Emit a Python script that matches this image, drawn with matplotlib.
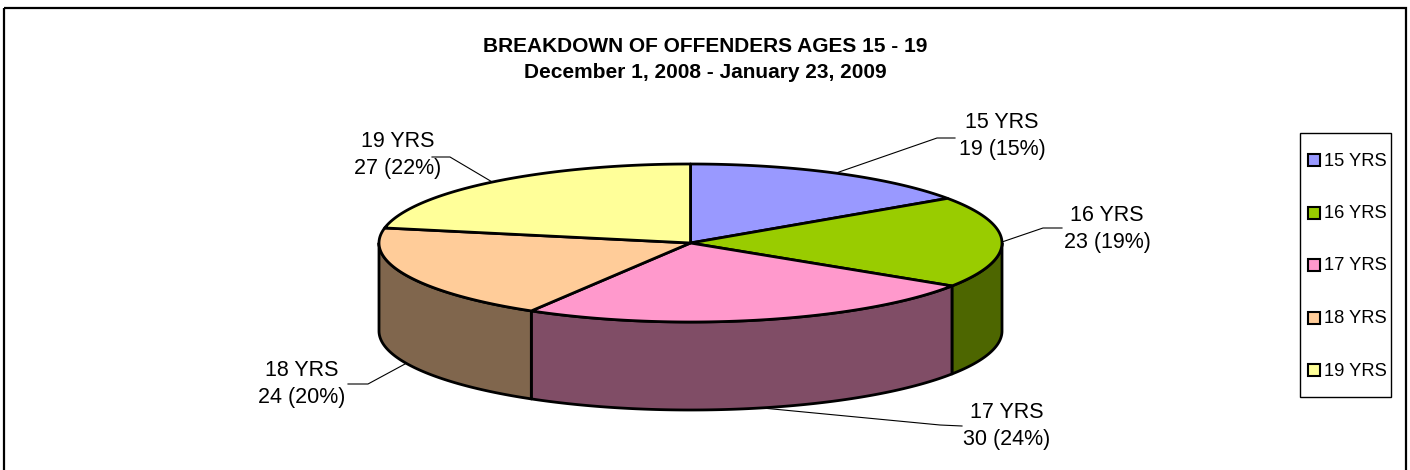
import numpy as np
import matplotlib
matplotlib.use("Agg")
import matplotlib.pyplot as plt
from matplotlib.patches import Polygon, Rectangle
from matplotlib.colors import to_rgb

# ---- data ----
categories = ["15 YRS", "16 YRS", "17 YRS", "18 YRS", "19 YRS"]
values = [19, 23, 30, 24, 27]
title_lines = ["BREAKDOWN OF OFFENDERS AGES 15 - 19",
               "December 1, 2008 - January 23, 2009"]

# ---- style ----
colors = ["#9999FF", "#99CC00", "#FF99CC", "#FFCC99", "#FFFF99"]
plt.rcParams['font.family'] = ['Liberation Sans', 'DejaVu Sans']

W, H = 1410, 470
fig = plt.figure(figsize=(W / 100, H / 100), dpi=100)
ax = fig.add_axes([0, 0, 1, 1])
ax.set_xlim(0, W)
ax.set_ylim(H, 0)
ax.axis('off')

# outer frame
ax.add_patch(Rectangle((4, 8), 1402, 490, fill=False, ec='black', lw=1.6, zorder=1))

# geometry of the 3D pie (pixel units)
cx, cy, a, b, depth = 690.5, 243.0, 311.5, 79.0, 88.0
lw = 2.0

total = float(sum(values))
bounds = np.concatenate([[0], np.cumsum(values)]) / total * 360.0


def pt(theta_deg, dy=0.0):
    t = np.radians(theta_deg)
    return cx + a * np.sin(t), cy - b * np.cos(t) + dy


# sides (front half only: 90..270 deg clockwise from top)
for i in range(len(values)):
    s, e = max(bounds[i], 90.0), min(bounds[i + 1], 270.0)
    if e <= s:
        continue
    th = np.linspace(s, e, 120)
    xt, yt = pt(th)
    xb, yb = pt(th, depth)
    poly = np.column_stack([np.concatenate([xt, xb[::-1]]),
                            np.concatenate([yt, yb[::-1]])])
    side = tuple(0.5 * c for c in to_rgb(colors[i]))
    ax.add_patch(Polygon(poly, closed=True, fc=side, ec='black', lw=lw,
                         joinstyle='round', zorder=2))

# top wedges
for i in range(len(values)):
    th = np.linspace(bounds[i], bounds[i + 1], 200)
    xt, yt = pt(th)
    poly = np.column_stack([np.concatenate([[cx], xt]), np.concatenate([[cy], yt])])
    ax.add_patch(Polygon(poly, closed=True, fc=colors[i], ec='black', lw=lw,
                         joinstyle='round', zorder=3))

# labels with leader lines
label_pos = [(1002, 136), (1107, 229), (1007, 426), (302, 384), (398, 155)]
elbows = [[(937, 138), (955, 138)],
          [(1043, 228), (1062, 228)],
          [(940, 425), (962, 426)],
          [(368, 384), (348, 384)],
          [(450, 157), (432, 157)]]
for i in range(len(values)):
    mid = 0.5 * (bounds[i] + bounds[i + 1])
    front = 90.0 < mid < 270.0
    ax0, ay0 = pt(mid, depth if front else 0.0)
    xs = [ax0] + [p[0] for p in elbows[i]]
    ys = [ay0] + [p[1] for p in elbows[i]]
    ax.plot(xs, ys, color='black', lw=0.8, zorder=4)
    pct = values[i] / total * 100
    ax.text(label_pos[i][0], label_pos[i][1],
            f"{categories[i]}\n{values[i]} ({pct:.0f}%)",
            ha='center', va='center', fontsize=15.5, linespacing=1.4, zorder=5)

# title
ax.text(705, 46, title_lines[0], ha='center', va='center', fontsize=15,
        fontweight='bold')
ax.text(705, 72, title_lines[1], ha='center', va='center', fontsize=15,
        fontweight='bold')

# legend (manual)
ax.add_patch(Rectangle((1300, 133), 91, 264, fill=False, ec='black', lw=1.0, zorder=5))
for i, cat in enumerate(categories):
    y = 160 + i * 52.5
    ax.add_patch(Rectangle((1308, y - 6), 12, 12, fc=colors[i], ec='black', lw=1.5, zorder=6))
    ax.text(1324, y + 1, cat, ha='left', va='center', fontsize=13.2, zorder=6)

fig.savefig("out.png", dpi=100)
